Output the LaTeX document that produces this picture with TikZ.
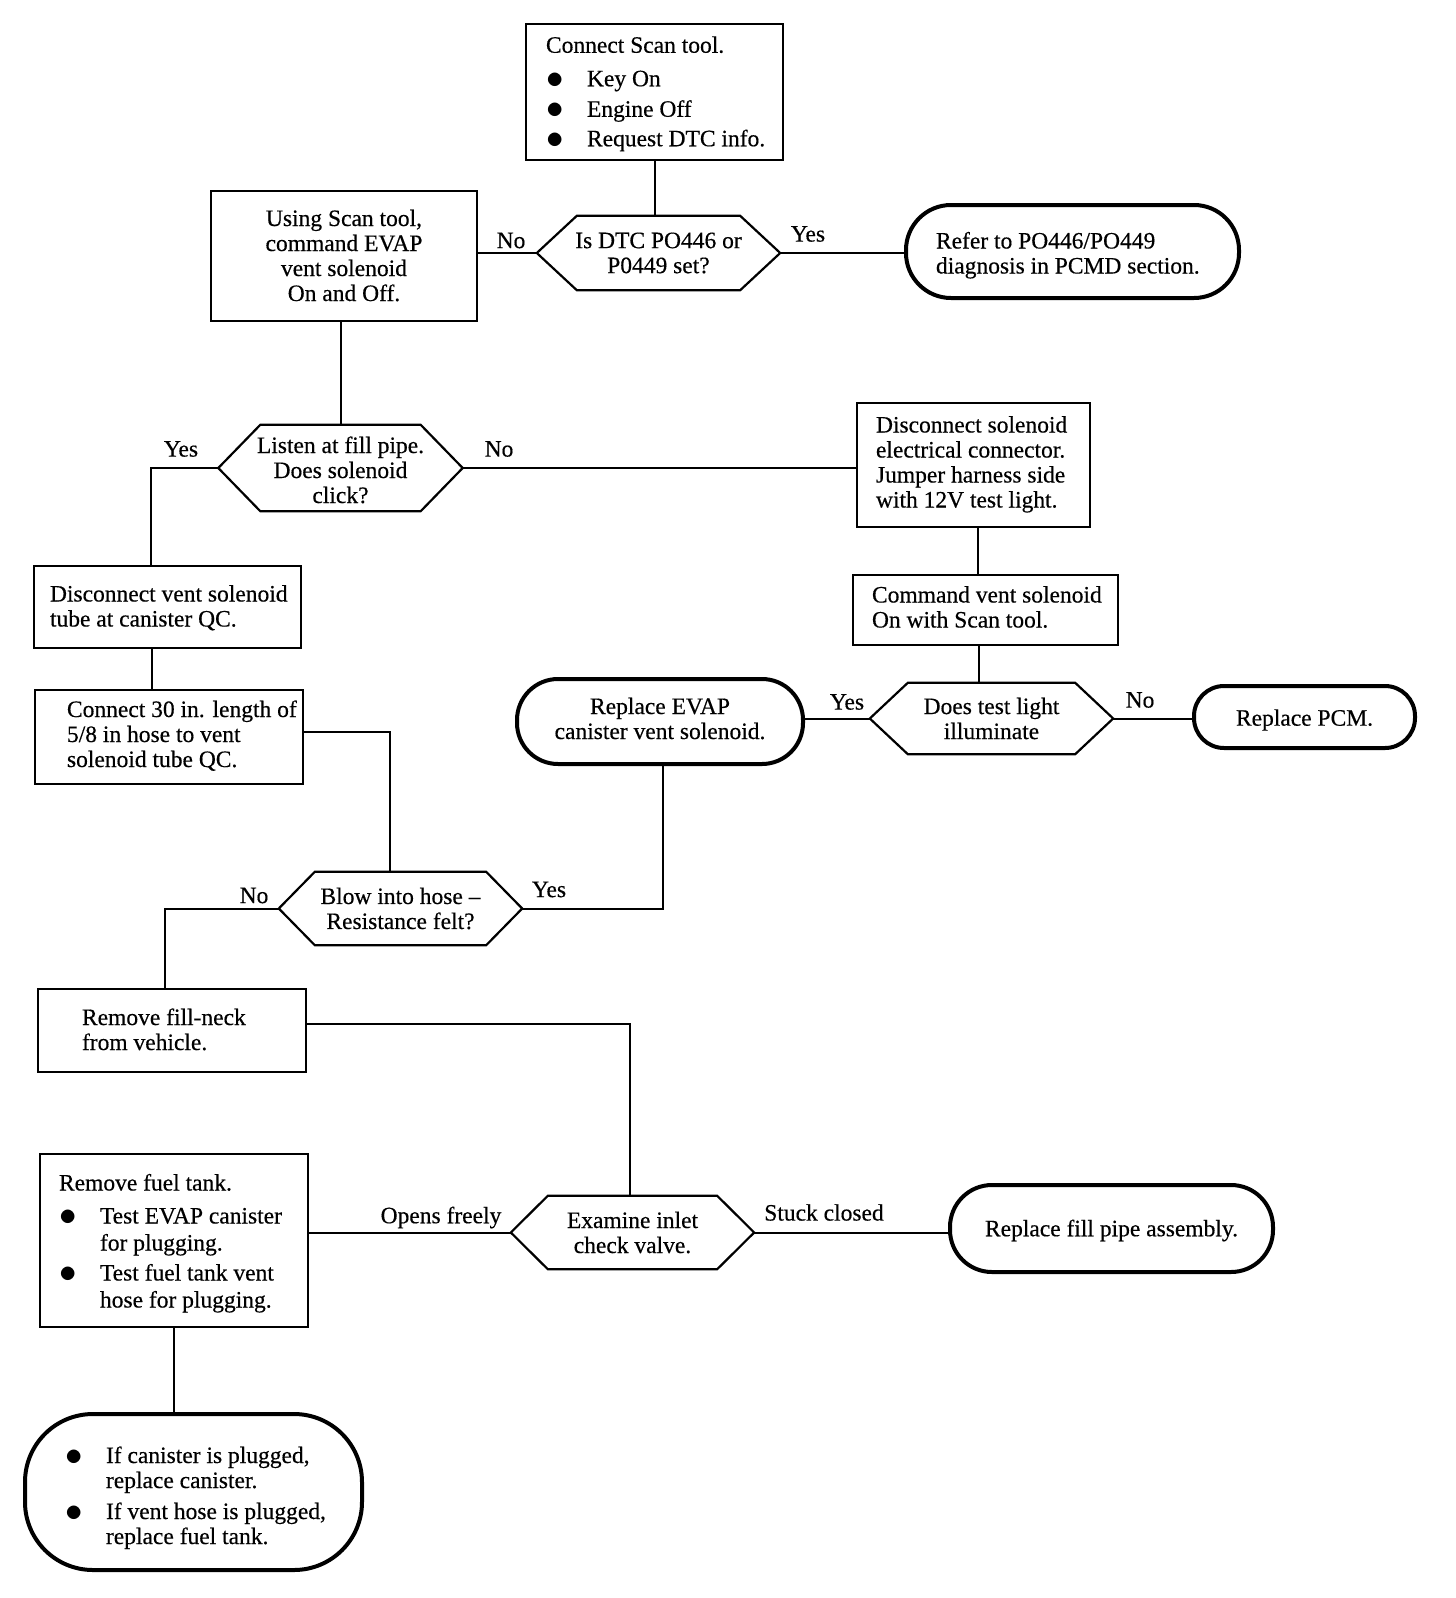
\documentclass[tikz,border=0pt]{standalone}
\usepackage{fontspec}
\setmainfont{Liberation Serif}[UprightFeatures={FakeBold=0.4}]
\usetikzlibrary{calc}
\newcommand{\shiftdown}[2]{\raisebox{-#1pt}[\height][\depth]{#2}}
\newcommand{\lblock}[4]{\makebox[#1pt][l]{\hspace*{#2pt}\shiftdown{#3}{\begin{tabular}[c]{@{}l@{}}#4\end{tabular}}}}
\newcommand{\cblock}[2]{\shiftdown{#1}{\begin{tabular}[c]{@{}c@{}}#2\end{tabular}}}
\newcommand{\bul}{\makebox[41pt][l]{\raisebox{-2.2pt}{\scalebox{1.4}{$\bullet$}}}}
\newcommand{\bind}{\hspace*{41pt}}
\newcommand{\hexoutline}[2]{\draw[hexline] (#1.west) -- ([xshift=#2pt]#1.north west) -- ([xshift=-#2pt]#1.north east) -- (#1.east) -- ([xshift=-#2pt]#1.south east) -- ([xshift=#2pt]#1.south west) -- cycle;}
\tikzset{
  basefont/.style={inner sep=0pt, font=\fontsize{23.5}{25}\selectfont},
  procbox/.style={basefont, draw, line width=2.2pt, rectangle},
  term/.style={basefont, draw, line width=4pt, rectangle, rounded corners=#1},
  term/.default=40,
  hexnode/.style={basefont, rectangle, align=center},
  hexline/.style={line width=2.2pt},
  conn/.style={line width=2pt},
  lab/.style={basefont},
}
\begin{document}
\begin{tikzpicture}[x=1pt,y=-1pt]
\useasboundingbox (0,0) rectangle (1456,1598);
\fill[white] (0,0) rectangle (1456,1598);

% process boxes
\node[procbox, minimum width=257, minimum height=136] (scan) at (654.5,92)
  {\lblock{257}{20}{2.5}{Connect Scan tool.\\[8.5pt] \bul Key On\\[5.5pt] \bul Engine Off\\[4.5pt] \bul Request DTC info.}};
\node[procbox, minimum width=266, minimum height=130] (cmd) at (344,256)
  {\cblock{2.5}{Using Scan tool,\\ command EVAP\\ vent solenoid\\ On and Off.}};
\node[procbox, minimum width=233, minimum height=124] (disc) at (973.5,465)
  {\lblock{233}{19}{0}{Disconnect solenoid\\ electrical connector.\\ Jumper harness side\\ with 12V test light.}};
\node[procbox, minimum width=267, minimum height=82] (tube) at (167.5,607)
  {\lblock{267}{16}{2}{Disconnect vent solenoid\\ tube at canister QC.}};
\node[procbox, minimum width=265, minimum height=70] (cmdon) at (985.5,610)
  {\lblock{265}{19}{0}{Command vent solenoid\\ On with Scan tool.}};
\node[procbox, minimum width=268, minimum height=94] (hose) at (169,737)
  {\lblock{268}{32}{0}{Connect 30 in. length of\\ 5/8 in hose to vent\\ solenoid tube QC.}};
\node[procbox, minimum width=268, minimum height=83] (neck) at (172,1030.5)
  {\lblock{268}{44}{2}{Remove fill-neck\\ from vehicle.}};
\node[procbox, minimum width=268, minimum height=173] (tank) at (174,1240.5)
  {\lblock{268}{19}{3.5}{Remove fuel tank.\\[8pt] \bul Test EVAP canister\\[2pt] \bind for plugging.\\[5pt] \bul Test fuel tank vent\\[2pt] \bind hose for plugging.}};

% decisions
\node[hexnode, minimum width=243, minimum height=74] (q1) at (658.5,253) {Is DTC PO446 or\\ P0449 set?};
\node[hexnode, minimum width=244, minimum height=86] (q2) at (340.5,468) {\cblock{5}{Listen at fill pipe.\\ Does solenoid\\ click?}};
\node[hexnode, minimum width=243, minimum height=71] (q3) at (991.5,718.5) {Does test light\\ illuminate};
\node[hexnode, minimum width=243, minimum height=73] (q4) at (400.5,908.5) {Blow into hose --\\ Resistance felt?};
\node[hexnode, minimum width=243, minimum height=73] (q5) at (632.5,1232.5) {Examine inlet\\ check valve.};
\hexoutline{q1}{40}
\hexoutline{q2}{42}
\hexoutline{q3}{38}
\hexoutline{q4}{36}
\hexoutline{q5}{37}

% terminals
\node[term=45, minimum width=333, minimum height=93] (refer) at (1072.5,251.5)
  {\lblock{333}{30}{4.5}{Refer to PO446/PO449\\ diagnosis in PCMD section.}};
\node[term=41, minimum width=286, minimum height=85] (evap) at (660,721.5)
  {\cblock{0}{Replace EVAP\\ canister vent solenoid.}};
\node[term=30, minimum width=221, minimum height=62] (pcm) at (1304.5,717) {\shiftdown{3}{Replace PCM.}};
\node[term=42, minimum width=323, minimum height=87] (fill) at (1111.5,1228.5) {\shiftdown{2}{Replace fill pipe assembly.}};
\node[term=68, minimum width=337, minimum height=156] (plug) at (193.5,1492)
  {\lblock{337}{40}{6.5}{\bul If canister is plugged,\\ \bind replace canister.\\[6pt] \bul If vent hose is plugged,\\ \bind replace fuel tank.}};

% connectors
\draw[conn] (scan.south) -- (scan.south |- q1.north);
\draw[conn] (q1.west) -- (q1.west -| cmd.east);
\draw[conn] (q1.east) -- (q1.east -| refer.west);
\draw[conn] (q2.north |- cmd.south) -- (q2.north);
\draw[conn] (q2.west) -| ($(tube.north west)+(118,0)$);
\draw[conn] (q2.east) -- (q2.east -| disc.west);
\coordinate (d1) at ($(disc.south west)+(122,0)$);
\draw[conn] (d1) -- (d1 |- cmdon.north);
\coordinate (d2) at ($(cmdon.south west)+(127,0)$);
\draw[conn] (d2) -- (d2 |- q3.north);
\draw[conn] (q3.west) -- (q3.west -| evap.east);
\draw[conn] (q3.east) -- (q3.east -| pcm.west);
\coordinate (d3) at ($(tube.south west)+(119,0)$);
\draw[conn] (d3) -- (d3 |- hose.north);
\draw[conn] ($(hose.north east)+(0,43)$) -| ($(q4.north)+(-10.5,0)$);
\draw[conn] ($(evap.south)+(3,0)$) |- (q4.east);
\draw[conn] (q4.west) -| ($(neck.north west)+(128,0)$);
\draw[conn] ($(neck.north east)+(0,36)$) -| ($(q5.north)+(-3,0)$);
\draw[conn] (q5.west) -- (q5.west -| tank.east);
\draw[conn] (q5.east) -- (q5.east -| fill.west);
\draw[conn] (tank.south) -- (tank.south |- plug.north);

% labels
\node[lab] (l1) at (511,240.5) {No};
\node[lab] (l2) at (808,234) {Yes};
\node[lab] (l3) at (181,449) {Yes};
\node[lab] (l4) at (499,449) {No};
\node[lab] (l5) at (847,702) {Yes};
\node[lab] (l6) at (1140,700) {No};
\node[lab] (l7) at (549,889.5) {Yes};
\node[lab] (l8) at (254,895.5) {No};
\node[lab] (l9) at (441,1217.5) {Opens freely};
\node[lab] (l10) at (824,1212.5) {Stuck closed};
\end{tikzpicture}
\end{document}
